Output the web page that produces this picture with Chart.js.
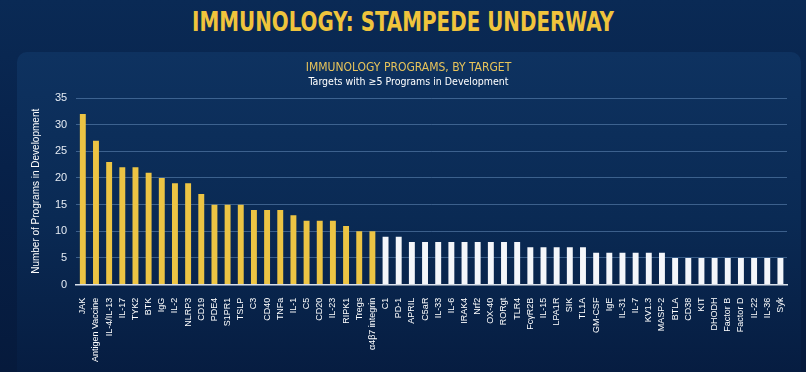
<!DOCTYPE html>
<html lang="en">
<head>
    <meta charset="UTF-8">
    <title>Immunology programs by target</title>
    <script src="https://cdn.jsdelivr.net/npm/chart.js"></script>
    <style>
        html, body { margin: 0; padding: 0; }
        body {
            width: 806px; height: 372px; overflow: hidden; position: relative;
            background: linear-gradient(180deg, #0a2a55 0%, #072149 45%, #061a3c 100%);
        }
        #panel {
            position: absolute; left: 17px; top: 52px; width: 784px; height: 330px;
            border-radius: 10px;
            background: linear-gradient(180deg, #0e3260 0%, #0a2a54 50%, #061c40 100%);
        }
        #headline {
            position: absolute; left: 0; top: 7px; width: 806px; text-align: center;
            font-family: "Liberation Sans Narrow", "DejaVu Sans Condensed", sans-serif;
            font-weight: bold; font-size: 26px; color: #f0c43c;
            transform: scaleX(0.85); transform-origin: 403px 0;
        }
        #chartBox { position: absolute; left: 0; top: 0; width: 806px; height: 372px; }
    </style>
</head>
<body>
    <div id="panel"></div>
    <div id="headline">IMMUNOLOGY: STAMPEDE UNDERWAY</div>
    <div id="chartBox"><canvas id="targetChart" width="806" height="372"></canvas></div>

    <script>
        const targets = ['JAK', 'Antigen Vaccine', 'IL-4/IL-13', 'IL-17', 'TYK2', 'BTK', 'IgG', 'IL-2', 'NLRP3', 'CD19',
            'PDE4', 'S1PR1', 'TSLP', 'C3', 'CD40', 'TNFa', 'IL-1', 'C5', 'CD20', 'IL-23', 'RIPK1', 'Tregs', 'α4β7 integrin',
            'C1', 'PD-1', 'APRIL', 'C5aR', 'IL-33', 'IL-6', 'IRAK4', 'Nrf2', 'OX-40', 'RORgt', 'TLR4',
            'FcγR2B', 'IL-15', 'LPA1R', 'SIK', 'TL1A', 'GM-CSF', 'IgE', 'IL-31', 'IL-7', 'KV1.3', 'MASP-2',
            'BTLA', 'CD38', 'KIT', 'DHODH', 'Factor B', 'Factor D', 'IL-22', 'IL-36', 'Syk'];
        const programs = [32, 27, 23, 22, 22, 21, 20, 19, 19, 17,
            15, 15, 15, 14, 14, 14, 13, 12, 12, 12, 11, 10, 10,
            9, 9, 8, 8, 8, 8, 8, 8, 8, 8, 8,
            7, 7, 7, 7, 7, 6, 6, 6, 6, 6, 6,
            5, 5, 5, 5, 5, 5, 5, 5, 5];
        const yTicks = [0, 5, 10, 15, 20, 25, 30, 35];

        const gold = '#ecc444';
        const white = '#f4f6fa';
        const condensed = '"Liberation Sans Narrow", "DejaVu Sans Condensed", sans-serif';

        const config = {
            type: 'bar',
            data: {
                labels: targets,
                datasets: [{
                    data: programs,
                    backgroundColor: programs.map(v => v >= 10 ? gold : white),
                    borderWidth: 0,
                    barPercentage: 0.45,
                    categoryPercentage: 1.0
                }]
            },
            options: {
                responsive: false,
                animation: false,
                layout: { padding: { top: 61, left: 30, right: 19, bottom: 5 } },
                plugins: {
                    legend: { display: false },
                    tooltip: { enabled: false },
                    title: {
                        display: true,
                        text: 'IMMUNOLOGY PROGRAMS, BY TARGET',
                        color: '#e8c45a',
                        font: { family: condensed, size: 12, weight: 'normal' },
                        padding: { top: 0, bottom: 1 }
                    },
                    subtitle: {
                        display: true,
                        text: 'Targets with ≥5 Programs in Development',
                        color: '#ffffff',
                        font: { family: condensed, size: 10.5 },
                        padding: { top: 0, bottom: 9 }
                    }
                },
                scales: {
                    x: {
                        grid: { display: false },
                        border: { display: true, color: '#d8e0ea', width: 1.5 },
                        ticks: {
                            color: '#ffffff',
                            font: { family: 'Liberation Sans, Arial, sans-serif', size: 9 },
                            maxRotation: 90, minRotation: 90,
                            autoSkip: false, padding: 5
                        }
                    },
                    y: {
                        min: 0, max: 35,
                        afterBuildTicks: axis => { axis.ticks = yTicks.map(v => ({ value: v })); },
                        grid: { color: 'rgba(110,150,195,0.5)', lineWidth: 1, drawTicks: false },
                        border: { display: false },
                        ticks: {
                            color: '#e6ecf4',
                            font: { family: 'Liberation Sans, Arial, sans-serif', size: 11 },
                            padding: 9
                        },
                        title: {
                            display: true,
                            text: 'Number of Programs in Development',
                            color: '#ffffff',
                            font: { family: 'Liberation Sans, Arial, sans-serif', size: 10 },
                            padding: { top: 0, bottom: 4 }
                        }
                    }
                }
            }
        };

        new Chart(document.getElementById('targetChart').getContext('2d'), config);
    </script>
</body>
</html>
